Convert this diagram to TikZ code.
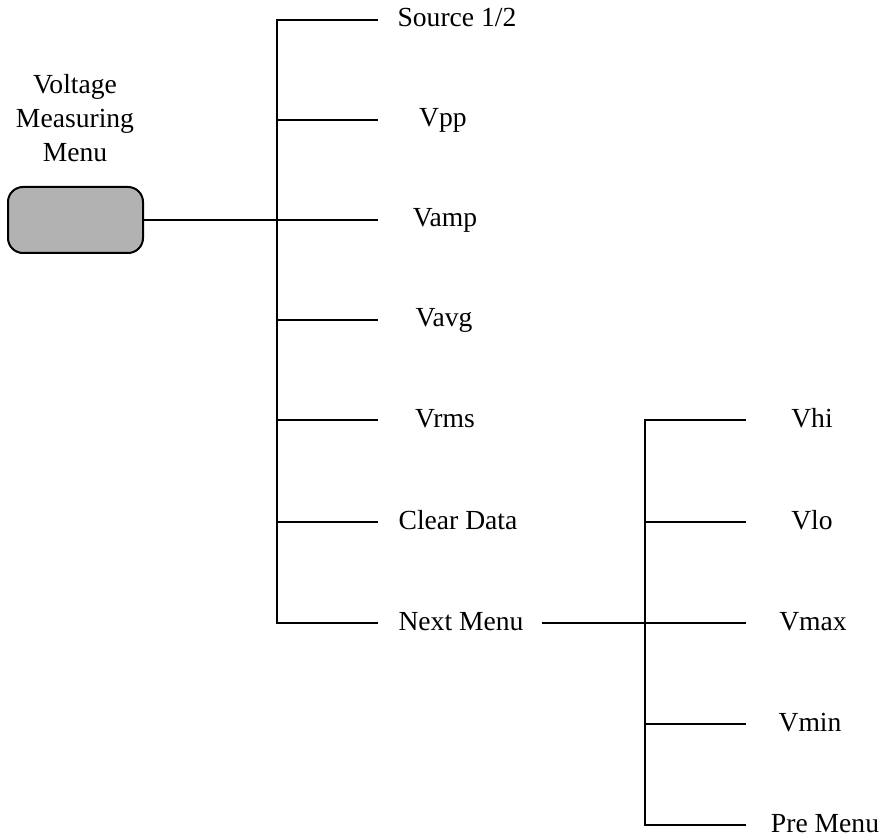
\documentclass[tikz,border=0pt]{standalone}
\usepackage{fontspec}
\setmainfont{Liberation Serif}
\begin{document}
\begin{tikzpicture}[x=0.5pt, y=-0.5pt, line width=1pt, line cap=rect, font=\fontsize{13.8}{17}\selectfont,
 item/.style={anchor=base, inner sep=0pt}]
 \useasboundingbox (0,0) rectangle (888,839);
 \node[draw, fill=black!30, rounded corners=7.5pt, minimum width=67.5pt, minimum height=33pt, inner sep=0pt] (menu) at (75.5,220) {};
 \node[align=center, anchor=base] (title) at (75,162) {Voltage\\Measuring\\Menu};
 % first menu
 \foreach \y/\cx/\txt [count=\i] in {20/457/{Source 1/2}, 120/443/Vpp, 220/445/Vamp, 320/444/Vavg, 420/445/Vrms, 522/458/{Clear Data}, 623/461/{Next Menu}}{
  \coordinate (a\i) at (277,\y);
  \coordinate (ae\i) at (377,\y);
  \node[item] (m\i) at (\cx,\y+7) {\txt};
  \draw (a\i) -- (ae\i);
 }
 \draw (a1) -- (a7);
 \draw (menu) -- (a3);
 % next menu
 \foreach \y/\cx/\txt [count=\i] in {420/812/Vhi, 522/812/Vlo, 623/813/Vmax, 724/810/Vmin, 825/825/{Pre Menu}}{
  \coordinate (b\i) at (645,\y);
  \coordinate (be\i) at (745,\y);
  \node[item] (n\i) at (\cx,\y+7) {\txt};
  \draw (b\i) -- (be\i);
 }
 \draw (b1) -- (b5);
 \coordinate (ne) at (543,623);
 \draw (ne) -- (b3);
\end{tikzpicture}
\end{document}
